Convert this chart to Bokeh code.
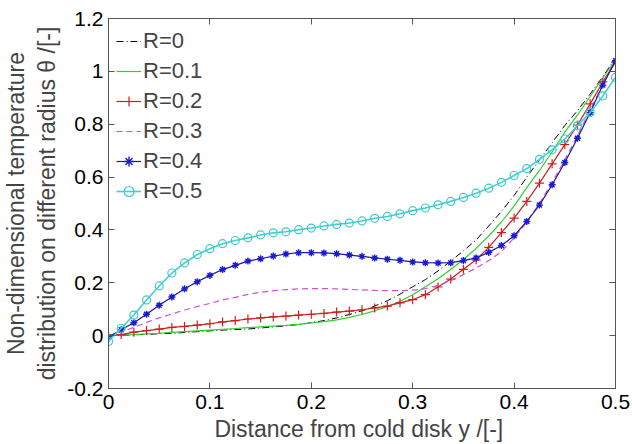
from bokeh.plotting import figure
from bokeh.models import FixedTicker, LinearAxis, Range1d
from bokeh.embed import file_html
from bokeh.resources import INLINE

# ---- data ----
y_pos = [0.0, 0.0125, 0.025, 0.0375, 0.05, 0.0625, 0.075, 0.0875, 0.1, 0.1125,
         0.125, 0.1375, 0.15, 0.1625, 0.175, 0.1875, 0.2, 0.2125, 0.225, 0.2375,
         0.25, 0.2625, 0.275, 0.2875, 0.3, 0.3125, 0.325, 0.3375, 0.35, 0.3625,
         0.375, 0.3875, 0.4, 0.4125, 0.425, 0.4375, 0.45, 0.4625, 0.475, 0.4875, 0.5]

theta_R0 = [0.0, 0.001, 0.003, 0.005, 0.007, 0.009, 0.012, 0.015, 0.018, 0.021,
            0.023, 0.025, 0.029, 0.033, 0.037, 0.042, 0.049, 0.057, 0.067, 0.080,
            0.094, 0.112, 0.132, 0.157, 0.185, 0.212, 0.245, 0.282, 0.321, 0.362,
            0.415, 0.470, 0.530, 0.600, 0.665, 0.730, 0.795, 0.851, 0.914, 0.980, 1.050]
theta_R01 = [0.0, 0.002, 0.004, 0.007, 0.009, 0.012, 0.015, 0.018, 0.021, 0.024,
             0.027, 0.030, 0.033, 0.036, 0.039, 0.043, 0.048, 0.053, 0.060, 0.069,
             0.080, 0.094, 0.110, 0.130, 0.155, 0.185, 0.215, 0.250, 0.288, 0.330,
             0.377, 0.430, 0.490, 0.560, 0.625, 0.695, 0.770, 0.835, 0.905, 0.975, 1.045]
theta_R02 = [0.0, 0.004, 0.013, 0.019, 0.025, 0.031, 0.035, 0.040, 0.045, 0.052,
             0.057, 0.063, 0.067, 0.071, 0.074, 0.078, 0.081, 0.084, 0.089, 0.093,
             0.098, 0.105, 0.112, 0.124, 0.136, 0.155, 0.184, 0.214, 0.251, 0.287,
             0.334, 0.390, 0.445, 0.508, 0.577, 0.650, 0.723, 0.797, 0.877, 0.960, 1.035]
theta_R03 = [0.0, 0.013, 0.031, 0.050, 0.067, 0.082, 0.097, 0.110, 0.122, 0.135,
             0.145, 0.156, 0.164, 0.170, 0.174, 0.177, 0.178, 0.178, 0.177, 0.175,
             0.173, 0.171, 0.170, 0.170, 0.172, 0.178, 0.190, 0.208, 0.231, 0.256,
             0.284, 0.318, 0.370, 0.430, 0.500, 0.580, 0.665, 0.757, 0.853, 0.952, 1.045]
theta_R04 = [-0.005, 0.022, 0.049, 0.081, 0.115, 0.146, 0.177, 0.204, 0.228, 0.250,
             0.266, 0.282, 0.291, 0.301, 0.309, 0.314, 0.314, 0.313, 0.310, 0.305,
             0.300, 0.294, 0.289, 0.285, 0.279, 0.276, 0.275, 0.276, 0.284, 0.294,
             0.315, 0.341, 0.378, 0.432, 0.494, 0.571, 0.655, 0.747, 0.844, 0.948, 1.040]
theta_R05 = [-0.022, 0.028, 0.078, 0.135, 0.188, 0.237, 0.275, 0.307, 0.329, 0.348,
             0.360, 0.370, 0.381, 0.389, 0.393, 0.401, 0.407, 0.415, 0.421, 0.426,
             0.434, 0.444, 0.451, 0.461, 0.473, 0.483, 0.495, 0.508, 0.523, 0.539,
             0.558, 0.580, 0.606, 0.632, 0.667, 0.703, 0.744, 0.794, 0.844, 0.907, 0.977]

x_ticks = [0, 0.1, 0.2, 0.3, 0.4, 0.5]
x_tick_labels = ["0", "0.1", "0.2", "0.3", "0.4", "0.5"]
y_ticks = [-0.2, 0, 0.2, 0.4, 0.6, 0.8, 1, 1.2]
y_tick_labels = ["-0.2", "0", "0.2", "0.4", "0.6", "0.8", "1", "1.2"]

FONT = "Liberation Sans"
AXIS_COL = "#555555"

p = figure(width=632, height=444, output_backend="svg", toolbar_location=None,
           x_range=Range1d(0, 0.5), y_range=Range1d(-0.2, 1.2),
           min_border_left=102, min_border_right=17, min_border_top=18,
           min_border_bottom=56, background_fill_color="white",
           border_fill_color="white")
p.grid.visible = False
p.outline_line_color = AXIS_COL

# series
p.line(y_pos, theta_R0, color="black", line_width=1, line_dash="7 3 1 3",
       legend_label="R=0")
p.line(y_pos, theta_R01, color="#30d030", line_width=1.2, legend_label="R=0.1")
p.line(y_pos, theta_R02, color="#cc2020", line_width=1.2, legend_label="R=0.2")
p.scatter(y_pos, theta_R02, marker="cross", size=9, line_color="#cc2020",
          line_width=1.2, legend_label="R=0.2")
p.line(y_pos, theta_R03, color="#d050d0", line_width=1.2, line_dash="6 4",
       legend_label="R=0.3")
p.line(y_pos, theta_R04, color="#1a1aa0", line_width=1.2, legend_label="R=0.4")
p.scatter(y_pos, theta_R04, marker="asterisk", size=7, line_color="#1a1ad0",
          line_width=1.4, legend_label="R=0.4")
p.line(y_pos, theta_R05, color="#40d0d0", line_width=1.6, legend_label="R=0.5")
p.scatter(y_pos, theta_R05, marker="circle", size=8, line_color="#40c8c8",
          fill_alpha=0, line_width=1.2, legend_label="R=0.5")

# axes
def style_axis(ax, ticks, labels=None, show_labels=True):
    ax.ticker = FixedTicker(ticks=ticks)
    ax.axis_line_color = AXIS_COL
    ax.major_tick_line_color = AXIS_COL
    ax.major_tick_in = 6
    ax.major_tick_out = 0
    ax.minor_tick_line_color = None
    if show_labels:
        ax.major_label_overrides = {t: l for t, l in zip(ticks, labels)}
        ax.major_label_text_font = FONT
        ax.major_label_text_font_size = "21px"
        ax.major_label_text_color = "black"
    else:
        ax.major_label_text_font_size = "0px"
        ax.major_label_text_color = None
        ax.major_label_standoff = 0

xa = p.xaxis[0]
style_axis(xa, x_ticks, x_tick_labels)
xa.major_label_standoff = 6
xa.axis_label = "Distance from cold disk  y /[-]"
xa.axis_label_text_font = FONT
xa.axis_label_text_font_size = "23px"
xa.axis_label_text_font_style = "normal"
xa.axis_label_standoff = 4

ya = p.yaxis[0]
style_axis(ya, y_ticks, y_tick_labels)
ya.major_label_standoff = 5
ya.axis_label = "Non-dimensional temperature\ndistribution on different radius \u03b8 /[-]"
ya.axis_label_text_font = FONT
ya.axis_label_text_font_size = "23px"
ya.axis_label_text_font_style = "normal"
ya.axis_label_standoff = 4

top = LinearAxis()
style_axis(top, x_ticks, show_labels=False)
p.add_layout(top, "above")
right = LinearAxis()
style_axis(right, y_ticks, show_labels=False)
p.add_layout(right, "right")

# legend
lg = p.legend[0]
lg.location = "top_left"
lg.margin = 0
lg.padding = 8
lg.spacing = 0
lg.border_line_alpha = 0
lg.background_fill_alpha = 0
lg.label_text_font = FONT
lg.label_text_font_size = "22px"
lg.label_height = 30
lg.glyph_height = 30
lg.glyph_width = 25
lg.label_standoff = 2

open("out.html", "w").write(file_html(p, INLINE))
